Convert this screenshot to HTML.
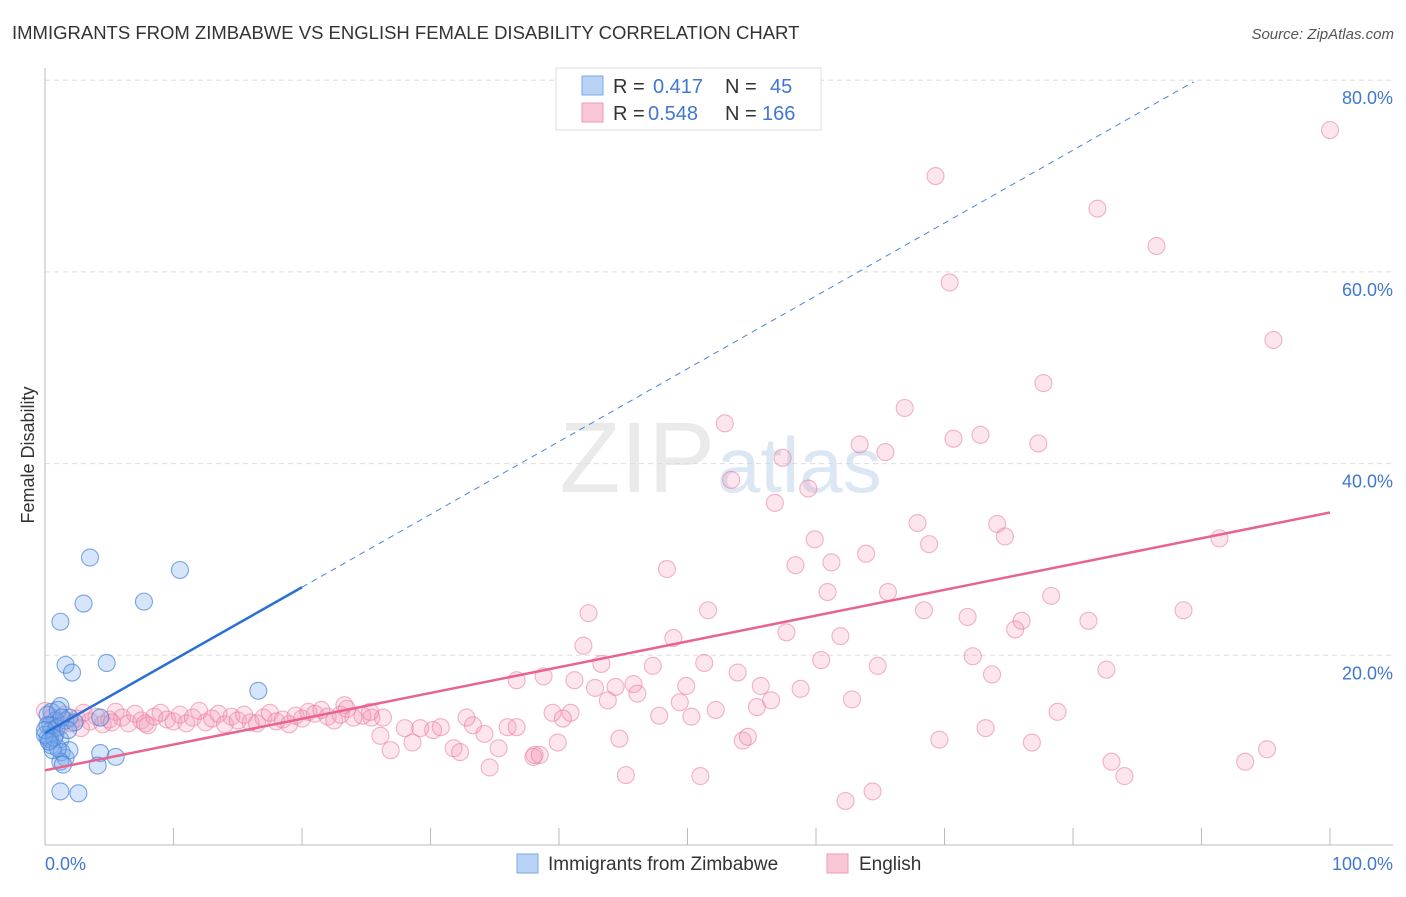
<!DOCTYPE html>
<html><head><meta charset="utf-8"><style>
body{margin:0;background:#fff;font-family:"Liberation Sans",sans-serif;}
svg text{font-family:"Liberation Sans",sans-serif;}
</style></head><body>
<svg id="chart" width="1406" height="892">
<text x="12" y="39" font-size="18.5" fill="#333">IMMIGRANTS FROM ZIMBABWE VS ENGLISH FEMALE DISABILITY CORRELATION CHART</text>
<text x="1394" y="39" font-size="15" fill="#555" font-style="italic" text-anchor="end">Source: ZipAtlas.com</text>
<text x="34" y="455" font-size="18" fill="#333" text-anchor="middle" transform="rotate(-90 34 455)">Female Disability</text>
<g id="grid"></g>
<text x="715" y="492" font-size="100" fill="#ddd" opacity="0.6" text-anchor="end" font-family="Liberation Serif">ZIP</text>
<text x="717" y="492" font-size="78" fill="#c6d8ee" opacity="0.6">atlas</text>
<g id="pts"></g>
<g id="lines"></g>
<g>
<rect x="556" y="68" width="265" height="62" fill="#fff" stroke="#ddd"/>
<rect x="582" y="76" width="21" height="19" fill="#b8d3f5" stroke="#7aa7e3"/>
<rect x="582" y="103" width="21" height="19" fill="#f9c6d6" stroke="#ee9ab5"/>
<text x="613" y="93" font-size="20" fill="#333">R = </text><text x="653" y="93" font-size="20" fill="#3f77d1">0.417</text>
<text x="725" y="93" font-size="20" fill="#333">N = </text><text x="770" y="93" font-size="20" fill="#3f77d1">45</text>
<text x="613" y="120" font-size="20" fill="#333">R = </text><text x="648" y="120" font-size="20" fill="#3f77d1">0.548</text>
<text x="725" y="120" font-size="20" fill="#333">N = </text><text x="762" y="120" font-size="20" fill="#3f77d1">166</text>
</g>
<text x="45" y="870" font-size="18" fill="#3f77d1">0.0%</text>
<text x="1393" y="870" font-size="18" fill="#3f77d1" text-anchor="end">100.0%</text>
<g>
<rect x="517" y="854" width="21" height="19" fill="#b8d3f5" stroke="#7aa7e3"/>
<text x="548" y="870" font-size="19" fill="#333">Immigrants from Zimbabwe</text>
<rect x="827" y="854" width="21" height="19" fill="#f9c6d6" stroke="#ee9ab5"/>
<text x="859" y="870" font-size="19" fill="#333">English</text>
</g>
</svg>
<script>
const yTicks=[20,40,60,80];
const yTickLabels=["20.0%","40.0%","60.0%","80.0%"];
const xTicks=[10,20,30,40,50,60,70,80,90,100];
const blueX=[3.5,10.5,3.0,7.7,1.2,1.6,2.1,4.8,16.6,1.2,0.5,0.8,0.2,0.4,0.5,0.8,1.2,0.2,0.5,1.3,1.6,1.9,4.3,5.5,4.1,1.2,1.4,1.2,2.6,0.2,1.6,1.9,2.3,4.3,0.9,0.4,0.6,0,1.0,1.3,1.8,1.0,0,0.7,0.3];
const blueY=[30.2,28.9,25.4,25.6,23.5,19.0,18.2,19.2,16.3,14.7,14.1,13.2,13.8,12.7,12.2,11.7,11.2,11.4,10.6,9.9,9.3,10.1,9.8,9.4,8.5,8.9,8.6,5.8,5.6,12.7,13.2,13.5,13.0,13.5,12.4,11.2,10.1,11.7,14.3,13.5,12.2,10.3,12.2,11.4,11.0];
const pinkX=[100,69.3,81.9,86.5,70.4,95.6,77.7,66.9,52.9,70.7,72.8,77.3,63.4,65.4,57.4,53.4,59.4,56.8,67.9,74.1,74.7,68.8,91.4,59.9,63.9,48.4,58.4,61.2,42.3,51.6,60.9,65.6,68.4,71.8,78.3,88.6,76.0,81.2,48.9,57.7,75.5,61.9,41.9,72.2,43.3,51.3,60.4,64.8,82.6,36.7,38.8,41.2,47.3,53.9,73.7,42.8,44.4,45.8,49.9,55.7,46.1,49.4,43.8,47.8,52.2,55.4,56.5,58.8,62.8,39.5,40.9,50.3,40.3,44.7,54.3,54.7,69.6,73.2,78.8,39.9,76.8,95.1,31.8,32.3,38.1,35.3,38.0,38.5,45.2,51.0,83.0,84.0,93.4,62.3,64.4,34.6,26.9,28.6,30.2,33.3,34.2,36.0,36.7,32.8,30.8,29.2,28.0,26.1,25.4,26.3,24.7,23.3,25.3,
0,0.5,1,1.5,2,2.5,3,3.5,4,4.5,5,5.5,6,6.5,7,7.5,8,8.5,9,9.5,10,10.5,11,11.5,12,12.5,13,13.5,14,14.5,15,15.5,16,16.5,17,17.5,18,18.5,19,19.5,20,20.5,21,21.5,22,22.5,23,23.5,24,1.2,2.8,5.2,7.8];
const pinkY=[74.8,70.0,66.6,62.7,58.9,52.9,48.4,45.8,44.2,42.6,43.0,42.1,42.0,41.2,40.6,38.3,37.4,35.9,33.8,33.7,32.4,31.6,32.2,32.1,30.6,29.0,29.4,29.7,24.4,24.7,26.6,26.6,24.7,24.0,26.2,24.7,23.6,23.6,21.8,22.4,22.7,22.0,21.0,19.9,19.1,19.2,19.5,18.9,18.5,17.4,17.8,17.4,18.9,18.2,18.0,16.6,16.7,17.0,16.8,16.8,16.0,15.1,15.3,13.7,14.3,14.6,15.3,16.5,15.4,14.0,14.0,13.6,13.4,11.3,11.1,11.5,11.2,12.4,14.1,10.9,10.9,10.2,10.3,9.9,9.6,10.3,9.4,9.6,7.5,7.4,8.9,7.4,8.9,4.8,5.8,8.3,10.1,10.9,12.2,12.7,11.8,12.5,12.5,13.5,12.5,12.4,12.4,11.6,13.5,13.5,13.7,14.8,14.1,
14.2,13.5,13.0,13.8,12.9,13.4,14.0,13.1,13.6,12.8,13.3,14.1,13.5,12.9,13.9,13.2,12.7,13.6,14.0,13.3,13.1,13.8,12.9,13.5,14.2,13.0,13.4,13.9,12.8,13.6,13.2,13.8,13.0,12.9,13.5,14.0,13.1,13.3,12.8,13.7,13.4,14.1,13.9,14.3,13.6,13.2,13.8,14.4,13.5,12.6,12.4,13.0,12.9];
const blueTrend=[11.9,0.76];const blueSolidEnd=20;const blueDashEnd=89.4;
const pinkTrend=[8.0,0.269];
const X0=45,X1=1330,Y0=847,PY=9.585;
const sx=v=>X0+(X1-X0)*v/100, sy=v=>Y0-v*PY;
const NS="http://www.w3.org/2000/svg";
function mk(t,a,p){const e=document.createElementNS(NS,t);for(const k in a)e.setAttribute(k,a[k]);p.appendChild(e);return e;}
const grid=document.getElementById('grid');
yTicks.forEach((v,i)=>{
 const l=mk('line',{x1:45,x2:1393,y1:sy(v),y2:sy(v),stroke:'#ddd','stroke-dasharray':'5,4'},grid);
 
 
 const t=mk('text',{x:1393,y:sy(v)+24,'font-size':18,fill:'#3f77d1','text-anchor':'end'},grid);
 t.textContent=yTickLabels[i];
 
 
});
const ax=mk('line',{x1:45,x2:45,y1:68,y2:845,stroke:'#bbb'},grid);


const bx=mk('line',{x1:45,x2:1393,y1:845,y2:845,stroke:'#bbb'},grid);


xTicks.forEach(v=>{
 const t=mk('line',{x1:sx(v),x2:sx(v),y1:828,y2:845,stroke:'#bbb'},grid);
 
 
});
const pts=document.getElementById('pts');
pinkX.forEach((x,i)=>{
 const c=mk('circle',{cx:sx(x),cy:sy(pinkY[i]),r:8.5,fill:'rgba(244,150,180,0.25)',stroke:'rgba(232,120,160,0.55)','stroke-width':1.1},pts);
 
 
});
blueX.forEach((x,i)=>{
 const c=mk('circle',{cx:sx(x),cy:sy(blueY[i]),r:8.5,fill:'rgba(120,170,235,0.3)',stroke:'rgba(70,130,215,0.7)','stroke-width':1.1},pts);
 
 
});
const lines=document.getElementById('lines');
const pl=mk('line',{x1:sx(0),y1:sy(pinkTrend[0]),x2:sx(100),y2:sy(pinkTrend[0]+pinkTrend[1]*100),stroke:'#e8648f','stroke-width':2.5},lines);


const bd=mk('line',{x1:sx(blueSolidEnd),y1:sy(blueTrend[0]+blueTrend[1]*blueSolidEnd),x2:sx(blueDashEnd),y2:sy(blueTrend[0]+blueTrend[1]*blueDashEnd),stroke:'#4a86d8','stroke-width':1,'stroke-dasharray':'6,5'},lines);


const bl=mk('line',{x1:sx(0),y1:sy(blueTrend[0]),x2:sx(blueSolidEnd),y2:sy(blueTrend[0]+blueTrend[1]*blueSolidEnd),stroke:'#2a6fd6','stroke-width':2.5},lines);


</script>
</body></html>
